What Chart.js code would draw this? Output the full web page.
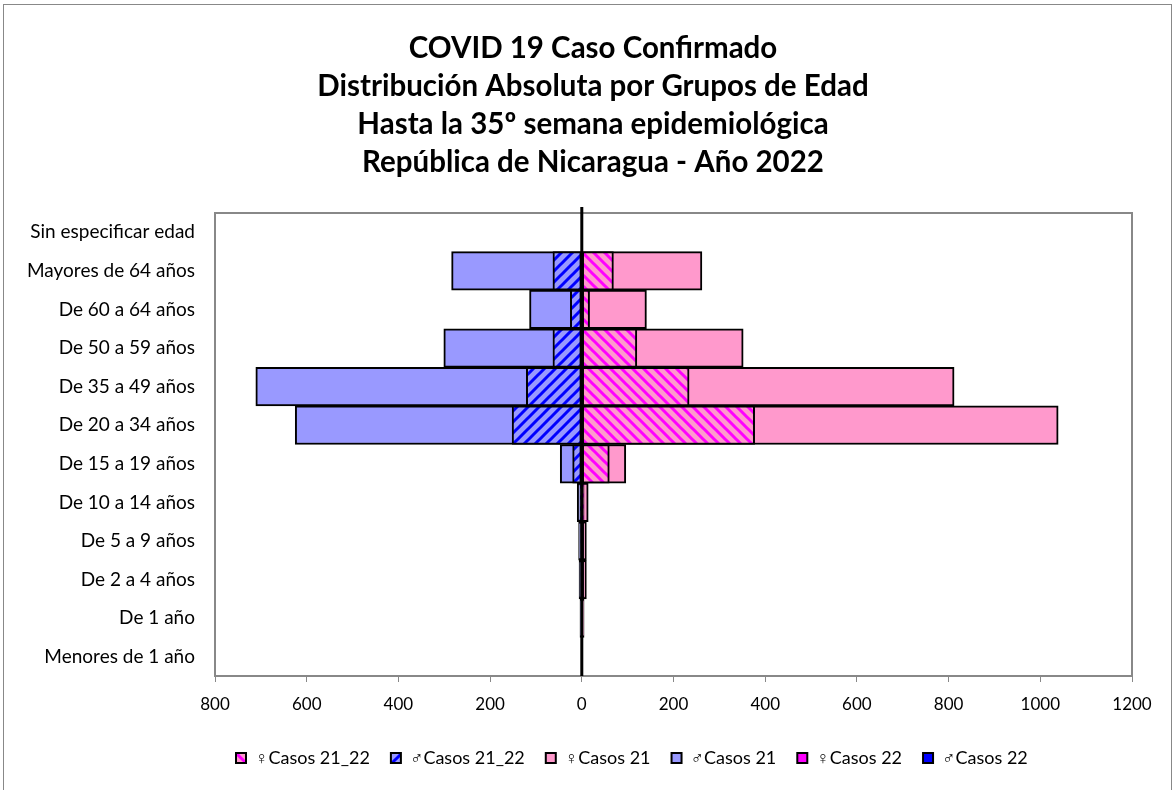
<!DOCTYPE html>
<html lang="es">
<head>
<meta charset="UTF-8">
<title>COVID 19 Caso Confirmado</title>
<script src="https://cdn.jsdelivr.net/npm/chart.js"></script>
<style>
  body { margin: 0; background: #fff; overflow: hidden; }
  #frame { position: absolute; left: 3px; top: 4px; width: 1167px; height: 800px; border: 1px solid #888; }
  #wrap { position: absolute; left: 0; top: 0; width: 1175px; height: 790px; }
</style>
</head>
<body>
<div id="frame"></div>
<div id="wrap"><canvas id="chart" width="1175" height="790"></canvas></div>
<script>
const titulo = ['COVID 19 Caso Confirmado', 'Distribución Absoluta por Grupos de Edad',
  'Hasta la 35º semana epidemiológica', 'República de Nicaragua - Año 2022'];

// grupos de edad, de arriba hacia abajo
const grupos = ['Sin especificar edad', 'Mayores de 64 años', 'De 60 a 64 años', 'De 50 a 59 años',
  'De 35 a 49 años', 'De 20 a 34 años', 'De 15 a 19 años', 'De 10 a 14 años',
  'De 5 a 9 años', 'De 2 a 4 años', 'De 1 año', 'Menores de 1 año'];

const fem2122 = [0, 69, 17, 120, 234, 377, 60, 5, 3, 3, 1, 0];
const mas2122 = [0, -63, -25, -63, -121, -152, -20, -3, -2, -2, -1, 0];
const fem21 = [0, 262, 141, 352, 812, 1039, 96, 14, 10, 10, 5, 1];
const mas21 = [0, -284, -114, -301, -711, -625, -47, -10, -7, -6, -4, -1];
const fem22 = [0, 0, 0, 0, 0, 0, 0, 0, 0, 0, 0, 0];
const mas22 = [0, 0, 0, 0, 0, 0, 0, 0, 0, 0, 0, 0];

const xTicks = [-800, -600, -400, -200, 0, 200, 400, 600, 800, 1000, 1200];

const FONT = 'Lato, "Open Sans", sans-serif';

function hatch(bg, fg, forward) {
  const p = 11;
  const c = document.createElement('canvas');
  c.width = p; c.height = p;
  const g = c.getContext('2d');
  g.fillStyle = bg;
  g.fillRect(0, 0, p, p);
  g.strokeStyle = fg;
  g.lineWidth = 3;
  g.beginPath();
  if (forward) {
    // "/" stripes
    g.moveTo(-p, p); g.lineTo(p, -p);
    g.moveTo(0, p); g.lineTo(p, 0);
    g.moveTo(0, p * 2); g.lineTo(p * 2, 0);
  } else {
    // "\" stripes
    g.moveTo(-p, 0); g.lineTo(p, p * 2);
    g.moveTo(0, 0); g.lineTo(p, p);
    g.moveTo(0, -p); g.lineTo(p * 2, p);
  }
  g.stroke();
  return g.createPattern(c, 'repeat');
}

const ctx = document.getElementById('chart').getContext('2d');
const hatchFem = hatch('#FF99CC', '#FF00FF', false);
const hatchMas = hatch('#9999FF', '#0000FF', true);

const marco = {
  id: 'marco',
  afterDatasetsDraw(chart) {
    const { ctx, chartArea: a, scales } = chart;
    ctx.save();
    ctx.strokeStyle = '#888';
    ctx.lineWidth = 2;
    ctx.strokeRect(a.left, a.top, a.right - a.left, a.bottom - a.top);
    const x0 = scales.x.getPixelForValue(0);
    ctx.strokeStyle = '#000';
    ctx.lineWidth = 3;
    ctx.beginPath();
    ctx.moveTo(x0, a.top - 6);
    ctx.lineTo(x0, a.bottom);
    ctx.stroke();
    ctx.restore();
  },
  afterDraw(chart) {
    // titulo centrado sobre el marco, no sobre el area de trazado
    const c = chart.ctx;
    c.save();
    c.fillStyle = '#000';
    c.font = 'bold 29.5px ' + FONT;
    c.textAlign = 'center';
    c.textBaseline = 'middle';
    titulo.forEach((t, i) => c.fillText(t, 593, 48 + i * 38));
    c.restore();
  }
};

function ds(label, data, bg) {
  return {
    label: label,
    data: data,
    backgroundColor: bg,
    borderColor: '#000',
    borderWidth: 2,
    borderSkipped: false,
    grouped: false,
    barPercentage: 1,
    categoryPercentage: 1
  };
}

new Chart(ctx, {
  type: 'bar',
  data: {
    labels: grupos,
    datasets: [
      ds('♀Casos 21_22', fem2122, hatchFem),
      ds('♂Casos 21_22', mas2122, hatchMas),
      ds('♀Casos 21', fem21, '#FF99CC'),
      ds('♂Casos 21', mas21, '#9999FF'),
      ds('♀Casos 22', fem22, '#FF00FF'),
      ds('♂Casos 22', mas22, '#0000FF')
    ]
  },
  options: {
    indexAxis: 'y',
    responsive: false,
    animation: false,
    layout: { padding: { left: 0, right: 43, top: 213, bottom: 13 } },
    plugins: {
      title: { display: false },
      legend: {
        position: 'bottom',
        fullSize: false,
        align: 'start',
        labels: {
          color: '#000',
          font: { family: FONT, size: 18 },
          boxWidth: 10,
          boxHeight: 10,
          padding: 21
        }
      },
      tooltip: { enabled: false }
    },
    scales: {
      x: {
        min: -800,
        max: 1200,
        afterBuildTicks(axis) { axis.ticks = xTicks.map(v => ({ value: v })); },
        afterFit(axis) { axis.height = 52; },
        ticks: {
          color: '#000',
          font: { family: FONT, size: 17 },
          padding: 12,
          callback: v => Math.abs(v)
        },
        grid: { display: true, drawOnChartArea: false, drawTicks: true, tickLength: 6, color: '#888', lineWidth: 1 },
        border: { display: false }
      },
      y: {
        afterFit(axis) { axis.width = 215; },
        ticks: {
          color: '#000',
          font: { family: FONT, size: 19 },
          padding: 12,
          autoSkip: false
        },
        grid: { display: false },
        border: { display: false }
      }
    }
  },
  plugins: [marco]
});
</script>
</body>
</html>
